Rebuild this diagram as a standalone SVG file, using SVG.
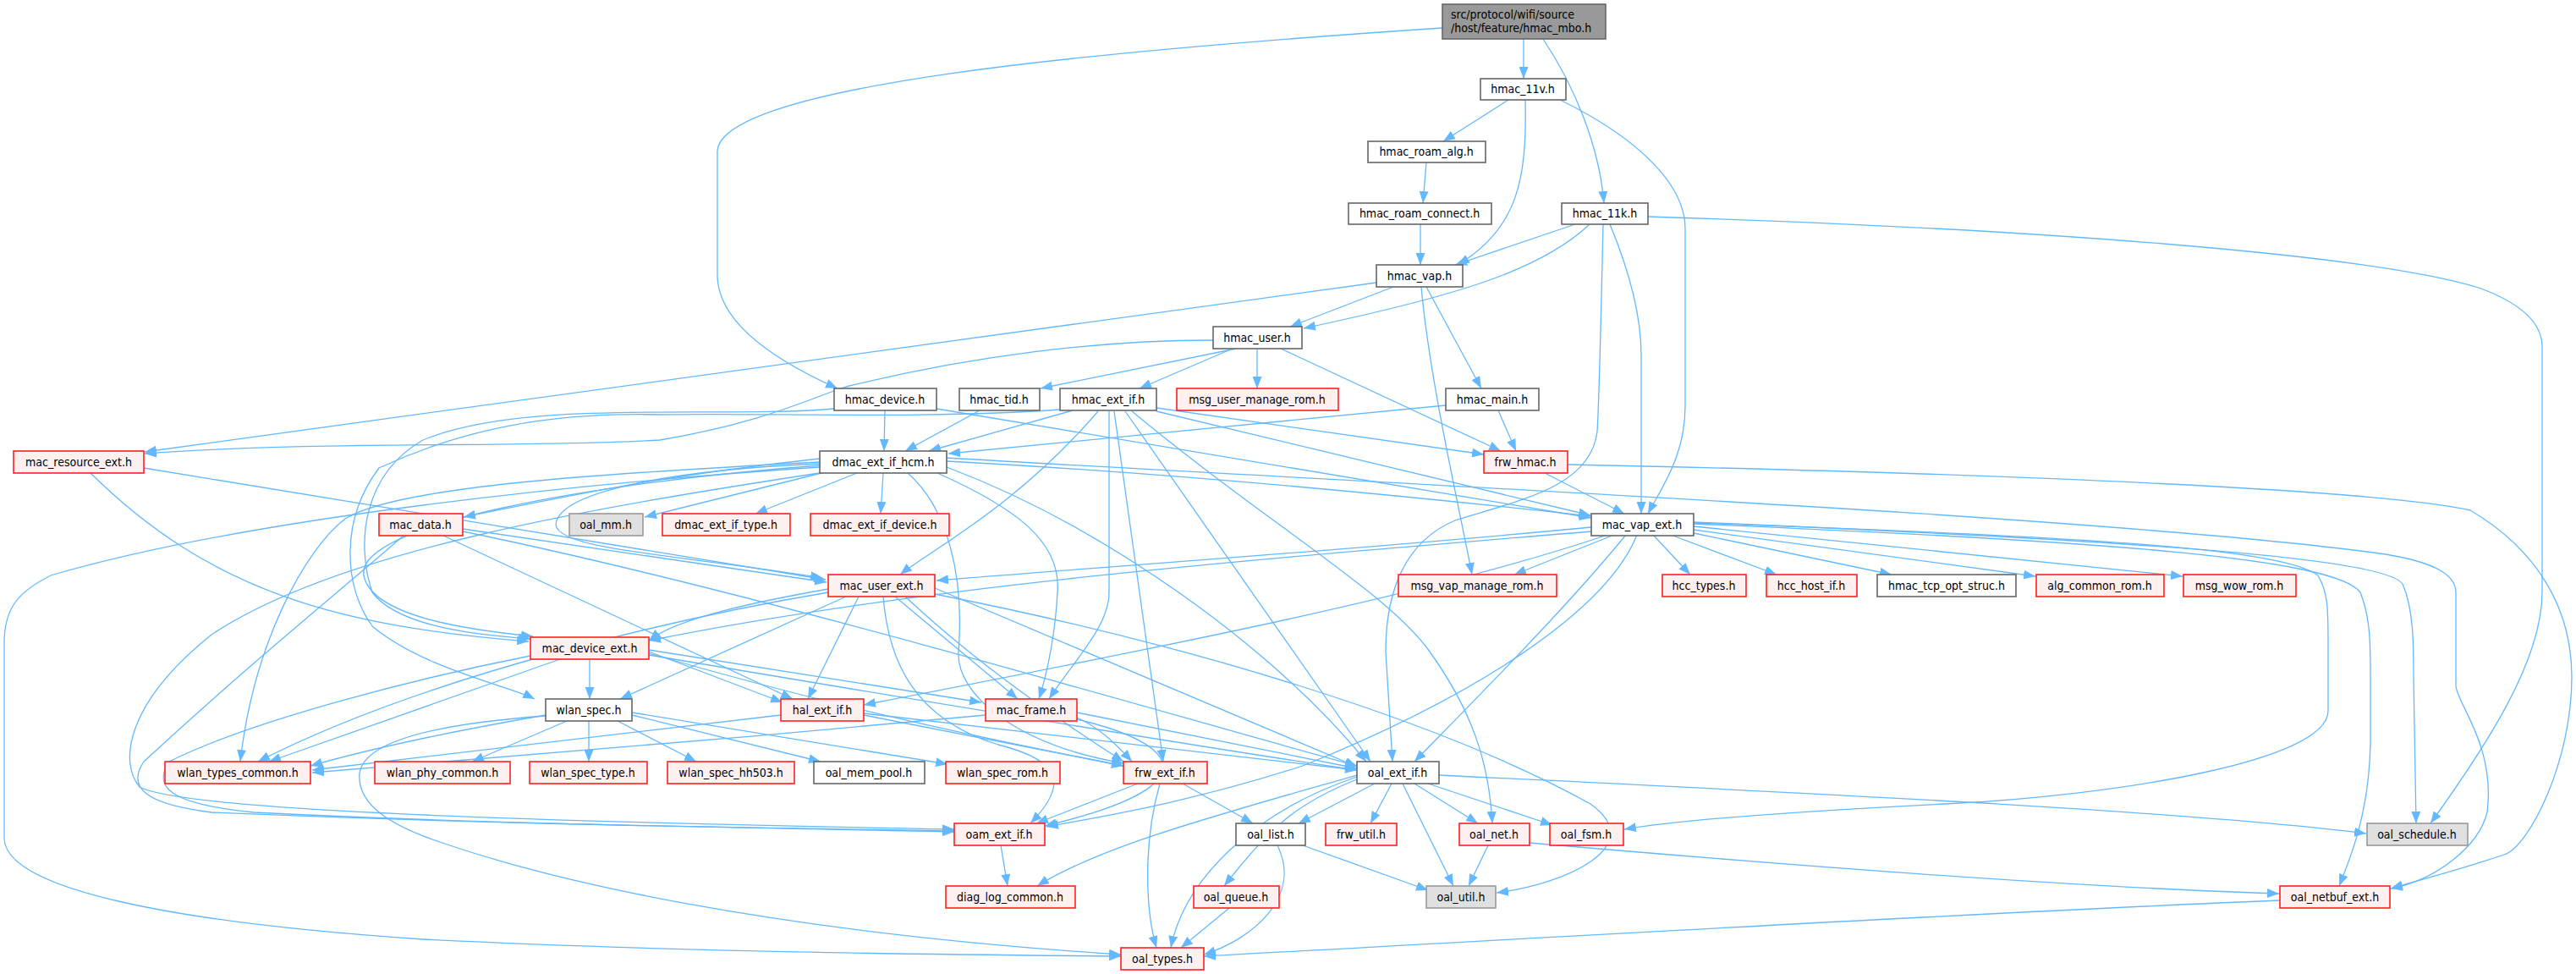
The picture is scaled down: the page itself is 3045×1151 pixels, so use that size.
<svg xmlns="http://www.w3.org/2000/svg" width="3045" height="1151" viewBox="0 0 3045 1151">
<style>
rect{stroke-width:1.6}
.n rect{fill:#ffffff;stroke:#666666}
.r rect{fill:#fff0f0;stroke:#ff2020}
.g rect{fill:#e0e0e0;stroke:#999999}
.root rect{fill:#999999;stroke:#666666}
text{font-family:"DejaVu Sans Condensed","DejaVu Sans",sans-serif;font-size:14px;fill:#000;text-anchor:middle}
.root text{text-anchor:start}
#edges path{fill:none;stroke:#63b8ff;stroke-width:1.3;marker-end:url(#a)}
</style>
<defs>
<marker id="a" markerWidth="14" markerHeight="11" refX="14" refY="5.5" orient="auto" markerUnits="userSpaceOnUse"><path d="M0,0 L14,5.5 L0,11 z" fill="#63b8ff"/></marker>
</defs>
<rect width="3045" height="1151" fill="#ffffff"/>
<g id="edges">
<path d="M1801,46 L1801,93"/>
<path d="M1824,46 C1860,100 1890,170 1896,240"/>
<path d="M1705,33 C1300,60 855,100 848,178 L848,327 C850,385 925,430 990,459"/>
<path d="M1783,118 L1706,167"/>
<path d="M1803,118 C1805,210 1795,270 1723,313"/>
<path d="M1844,118 C1940,165 1992,220 1992,270 L1992,480 C1992,540 1962,580 1948,607"/>
<path d="M1686,192 L1682,240"/>
<path d="M1679,265 L1679,313"/>
<path d="M1862,265 L1720,313"/>
<path d="M1878,266 C1820,320 1720,350 1541,388"/>
<path d="M1903,265 C1930,330 1940,380 1940,420 L1940,607"/>
<path d="M1895,265 C1892,400 1890,480 1888,510 C1880,575 1800,590 1720,615 C1660,640 1638,700 1638,770 L1646,900"/>
<path d="M1948,256 C2400,270 2800,300 2930,340 C2985,360 3005,385 3005,410 L3005,700 C3005,780 2940,880 2873,973"/>
<path d="M1647,339 L1525,386"/>
<path d="M1627,334 L171,534"/>
<path d="M1680,339 C1690,450 1725,600 1740,679"/>
<path d="M1686,339 L1751,459"/>
<path d="M1461,412 L1230,459"/>
<path d="M1457,412 L1347,459"/>
<path d="M1486,412 L1486,459"/>
<path d="M1514,412 L1774,533"/>
<path d="M1434,402 C1300,402 1150,420 1000,457 C960,470 900,500 780,520 C600,530 400,520 171,536"/>
<path d="M1046,485 L1045,533"/>
<path d="M1107,483 L1881,612"/>
<path d="M986,483 C850,495 620,470 500,520 C430,560 420,640 440,700 C470,740 560,750 627,755"/>
<path d="M1158,485 L1070,533"/>
<path d="M1268,485 L1098,533"/>
<path d="M1367,482 L1754,537"/>
<path d="M1367,486 L1880,609"/>
<path d="M1298,486 C1200,600 1100,650 1064,679"/>
<path d="M1311,486 L1311,700 C1311,740 1270,780 1240,826"/>
<path d="M1317,486 L1375,900"/>
<path d="M1330,486 L1620,900"/>
<path d="M1338,486 C1500,620 1640,700 1690,770 C1740,840 1760,900 1764,973"/>
<path d="M1253,484 C1100,495 900,488 780,490 C650,487 547,507 448,553 C403,613 405,690 440,740 C500,790 600,810 632,826"/>
<path d="M969,542 C800,560 700,580 548,611"/>
<path d="M975,558 L762,611"/>
<path d="M1013,559 L893,607"/>
<path d="M1044,559 L1041,607"/>
<path d="M1119,545 C1400,560 1700,590 1880,610"/>
<path d="M969,548 C800,555 660,580 657,620 C660,650 800,655 972,683"/>
<path d="M969,550 C700,570 420,620 430,680 C440,730 560,745 630,752"/>
<path d="M969,546 C700,560 470,575 408,613 C360,650 300,760 284,900"/>
<path d="M969,552 C700,570 300,610 60,680 C20,700 5,720 5,760 L5,990 C5,1050 200,1090 500,1110 C800,1125 1100,1128 1325,1130"/>
<path d="M975,558 C700,600 400,650 250,750 C150,830 140,900 165,930 C220,960 700,972 1128,980"/>
<path d="M1073,559 C1120,600 1140,680 1133,770 C1130,820 1200,880 1328,902"/>
<path d="M1108,559 C1200,600 1255,640 1250,700 C1248,740 1240,790 1228,826"/>
<path d="M1119,552 C1300,620 1500,760 1615,900"/>
<path d="M1119,541 C1600,570 2500,610 2820,655 C2880,665 2903,680 2903,700 L2903,810 C2903,830 2950,880 2940,960 C2930,1000 2880,1040 2826,1050"/>
<path d="M107,559 C250,700 400,740 625,758"/>
<path d="M170,553 L976,685"/>
<path d="M547,625 L977,688"/>
<path d="M547,628 C900,700 1400,850 1604,905"/>
<path d="M522,632 L937,826"/>
<path d="M478,632 C400,700 300,780 170,900 C150,930 170,950 250,960 C600,975 900,978 1128,982"/>
<path d="M1881,623 C1600,650 1300,670 1107,686"/>
<path d="M1881,628 C1500,660 1100,690 767,757"/>
<path d="M1908,632 L1790,679"/>
<path d="M1954,632 L1998,679"/>
<path d="M1975,632 L2100,679"/>
<path d="M2002,630 L2236,679"/>
<path d="M2002,626 L2406,681"/>
<path d="M2002,622 L2580,681"/>
<path d="M1900,632 C1700,700 1400,760 1021,833"/>
<path d="M1935,632 C1900,720 1750,820 1540,905 C1400,950 1300,965 1237,977"/>
<path d="M2002,618 C2500,635 2700,650 2740,680 C2752,700 2752,720 2752,760 L2752,840 C2752,900 2500,940 2300,950 C2100,960 1980,970 1920,980"/>
<path d="M2002,619 C2500,640 2760,660 2790,700 C2802,730 2802,760 2802,800 L2802,880 C2800,960 2780,1010 2765,1047"/>
<path d="M2002,617 C2550,640 2820,660 2840,690 C2853,720 2853,760 2853,800 L2856,973"/>
<path d="M1922,632 C1850,720 1750,820 1672,900"/>
<path d="M979,696 C900,710 800,730 767,757"/>
<path d="M1000,705 L733,826"/>
<path d="M1015,705 L955,826"/>
<path d="M1058,705 L1203,826"/>
<path d="M1070,705 C1150,780 1250,850 1328,900"/>
<path d="M1105,695 L1604,906"/>
<path d="M1044,705 C1050,780 1080,850 1180,880 C1260,900 1260,930 1218,973"/>
<path d="M1105,702 C1400,760 1700,850 1880,950 C1950,1000 1850,1045 1769,1055"/>
<path d="M979,700 C800,730 500,800 305,900"/>
<path d="M697,779 L697,826"/>
<path d="M662,779 L318,900"/>
<path d="M767,770 L925,830"/>
<path d="M767,768 L1160,830"/>
<path d="M767,774 C1100,830 1400,880 1604,910"/>
<path d="M627,775 C500,800 300,850 200,900 C180,930 200,950 300,960 C600,975 900,978 1128,983"/>
<path d="M767,772 C1000,840 1200,880 1328,905"/>
<path d="M645,845 C500,870 420,890 367,905"/>
<path d="M670,852 L558,900"/>
<path d="M696,852 L696,900"/>
<path d="M730,852 L823,900"/>
<path d="M747,845 L970,900"/>
<path d="M747,842 L1120,903"/>
<path d="M645,846 C520,855 430,875 425,914 C422,950 460,975 520,995 C650,1040 900,1100 1325,1128"/>
<path d="M923,845 C700,870 500,895 369,910"/>
<path d="M1021,845 C1150,870 1250,890 1328,905"/>
<path d="M1021,843 L1604,910"/>
<path d="M1165,845 C900,870 600,895 369,913"/>
<path d="M1273,842 L1604,908"/>
<path d="M1273,848 C1300,860 1320,880 1338,900"/>
<path d="M1273,850 C1400,880 1430,930 1235,976"/>
<path d="M1345,926 L1225,973"/>
<path d="M1371,926 C1350,1000 1355,1080 1367,1120"/>
<path d="M1398,926 L1481,973"/>
<path d="M1625,926 L1535,973"/>
<path d="M1645,926 L1620,973"/>
<path d="M1672,926 L1747,973"/>
<path d="M1688,926 L1835,975"/>
<path d="M1658,926 L1718,1047"/>
<path d="M1701,916 C2200,940 2600,960 2797,985"/>
<path d="M1604,918 C1480,960 1400,1040 1384,1120"/>
<path d="M1604,921 C1530,950 1500,980 1447,1047"/>
<path d="M1604,916 C1450,960 1300,1000 1226,1047"/>
<path d="M1183,999 L1191,1047"/>
<path d="M1540,999 L1688,1052"/>
<path d="M1510,999 C1540,1060 1480,1110 1423,1128"/>
<path d="M1759,999 L1736,1047"/>
<path d="M1808,996 C2200,1030 2500,1050 2694,1056"/>
<path d="M1453,1073 L1396,1120"/>
<path d="M2695,1064 C2300,1080 1800,1110 1423,1130"/>
<path d="M1826,559 L1920,607"/>
<path d="M1853,549 C2400,560 2820,580 2920,603 C3000,650 3040,720 3040,800 C3040,900 2990,1000 2960,1010 C2900,1030 2860,1040 2826,1050"/>
<path d="M1771,485 L1792,533"/>
<path d="M1709,479 L1121,536"/>
</g>
<g id="n_root" class="root"><rect x="1705" y="5" width="193" height="41"/><text x="1715" y="22">src/protocol/wifi/source</text><text x="1715" y="38">/host/feature/hmac_mbo.h</text></g>
<g id="n_hmac_11v" class="n"><rect x="1750" y="93" width="101" height="25"/><text x="1800" y="110">hmac_11v.h</text></g>
<g id="n_hmac_roam_alg" class="n"><rect x="1617" y="167" width="139" height="25"/><text x="1686" y="184">hmac_roam_alg.h</text></g>
<g id="n_hmac_roam_connect" class="n"><rect x="1594" y="240" width="169" height="25"/><text x="1678" y="257">hmac_roam_connect.h</text></g>
<g id="n_hmac_11k" class="n"><rect x="1846" y="240" width="102" height="25"/><text x="1897" y="257">hmac_11k.h</text></g>
<g id="n_hmac_vap" class="n"><rect x="1627" y="313" width="102" height="26"/><text x="1678" y="331">hmac_vap.h</text></g>
<g id="n_hmac_user" class="n"><rect x="1434" y="386" width="105" height="26"/><text x="1486" y="404">hmac_user.h</text></g>
<g id="n_hmac_device" class="n"><rect x="986" y="459" width="121" height="26"/><text x="1046" y="477">hmac_device.h</text></g>
<g id="n_hmac_tid" class="n"><rect x="1134" y="459" width="95" height="26"/><text x="1181" y="477">hmac_tid.h</text></g>
<g id="n_hmac_ext_if" class="n"><rect x="1253" y="459" width="114" height="26"/><text x="1310" y="477">hmac_ext_if.h</text></g>
<g id="n_msg_user_manage_rom" class="r"><rect x="1391" y="459" width="191" height="26"/><text x="1486" y="477">msg_user_manage_rom.h</text></g>
<g id="n_hmac_main" class="n"><rect x="1709" y="459" width="110" height="26"/><text x="1764" y="477">hmac_main.h</text></g>
<g id="n_mac_resource_ext" class="r"><rect x="16" y="533" width="154" height="26"/><text x="93" y="551">mac_resource_ext.h</text></g>
<g id="n_dmac_ext_if_hcm" class="n"><rect x="969" y="533" width="150" height="26"/><text x="1044" y="551">dmac_ext_if_hcm.h</text></g>
<g id="n_frw_hmac" class="r"><rect x="1754" y="533" width="99" height="26"/><text x="1803" y="551">frw_hmac.h</text></g>
<g id="n_mac_data" class="r"><rect x="448" y="607" width="99" height="26"/><text x="497" y="625">mac_data.h</text></g>
<g id="n_oal_mm" class="g"><rect x="673" y="607" width="87" height="26"/><text x="716" y="625">oal_mm.h</text></g>
<g id="n_dmac_ext_if_type" class="r"><rect x="783" y="607" width="151" height="26"/><text x="858" y="625">dmac_ext_if_type.h</text></g>
<g id="n_dmac_ext_if_device" class="r"><rect x="958" y="607" width="164" height="26"/><text x="1040" y="625">dmac_ext_if_device.h</text></g>
<g id="n_mac_vap_ext" class="n"><rect x="1881" y="607" width="121" height="26"/><text x="1941" y="625">mac_vap_ext.h</text></g>
<g id="n_mac_user_ext" class="r"><rect x="979" y="679" width="126" height="26"/><text x="1042" y="697">mac_user_ext.h</text></g>
<g id="n_msg_vap_manage_rom" class="r"><rect x="1653" y="679" width="187" height="26"/><text x="1746" y="697">msg_vap_manage_rom.h</text></g>
<g id="n_hcc_types" class="r"><rect x="1965" y="679" width="99" height="26"/><text x="2014" y="697">hcc_types.h</text></g>
<g id="n_hcc_host_if" class="r"><rect x="2088" y="679" width="107" height="26"/><text x="2141" y="697">hcc_host_if.h</text></g>
<g id="n_hmac_tcp_opt_struc" class="n"><rect x="2219" y="679" width="164" height="26"/><text x="2301" y="697">hmac_tcp_opt_struc.h</text></g>
<g id="n_alg_common_rom" class="r"><rect x="2407" y="679" width="151" height="26"/><text x="2482" y="697">alg_common_rom.h</text></g>
<g id="n_msg_wow_rom" class="r"><rect x="2581" y="679" width="133" height="26"/><text x="2647" y="697">msg_wow_rom.h</text></g>
<g id="n_mac_device_ext" class="r"><rect x="627" y="753" width="140" height="26"/><text x="697" y="771">mac_device_ext.h</text></g>
<g id="n_wlan_spec" class="n"><rect x="645" y="826" width="102" height="26"/><text x="696" y="844">wlan_spec.h</text></g>
<g id="n_hal_ext_if" class="r"><rect x="923" y="826" width="98" height="26"/><text x="972" y="844">hal_ext_if.h</text></g>
<g id="n_mac_frame" class="r"><rect x="1165" y="826" width="108" height="26"/><text x="1219" y="844">mac_frame.h</text></g>
<g id="n_wlan_types_common" class="r"><rect x="195" y="900" width="172" height="26"/><text x="281" y="918">wlan_types_common.h</text></g>
<g id="n_wlan_phy_common" class="r"><rect x="443" y="900" width="160" height="26"/><text x="523" y="918">wlan_phy_common.h</text></g>
<g id="n_wlan_spec_type" class="r"><rect x="626" y="900" width="139" height="26"/><text x="695" y="918">wlan_spec_type.h</text></g>
<g id="n_wlan_spec_hh503" class="r"><rect x="789" y="900" width="150" height="26"/><text x="864" y="918">wlan_spec_hh503.h</text></g>
<g id="n_oal_mem_pool" class="n"><rect x="962" y="900" width="131" height="26"/><text x="1027" y="918">oal_mem_pool.h</text></g>
<g id="n_wlan_spec_rom" class="r"><rect x="1118" y="900" width="135" height="26"/><text x="1185" y="918">wlan_spec_rom.h</text></g>
<g id="n_frw_ext_if" class="r"><rect x="1328" y="900" width="99" height="26"/><text x="1377" y="918">frw_ext_if.h</text></g>
<g id="n_oal_ext_if" class="n"><rect x="1604" y="900" width="97" height="26"/><text x="1652" y="918">oal_ext_if.h</text></g>
<g id="n_oam_ext_if" class="r"><rect x="1128" y="973" width="107" height="26"/><text x="1181" y="991">oam_ext_if.h</text></g>
<g id="n_oal_list" class="n"><rect x="1461" y="973" width="82" height="26"/><text x="1502" y="991">oal_list.h</text></g>
<g id="n_frw_util" class="r"><rect x="1567" y="973" width="84" height="26"/><text x="1609" y="991">frw_util.h</text></g>
<g id="n_oal_net" class="r"><rect x="1725" y="973" width="83" height="26"/><text x="1766" y="991">oal_net.h</text></g>
<g id="n_oal_fsm" class="r"><rect x="1832" y="973" width="87" height="26"/><text x="1875" y="991">oal_fsm.h</text></g>
<g id="n_oal_schedule" class="g"><rect x="2798" y="973" width="119" height="26"/><text x="2857" y="991">oal_schedule.h</text></g>
<g id="n_diag_log_common" class="r"><rect x="1118" y="1047" width="153" height="26"/><text x="1194" y="1065">diag_log_common.h</text></g>
<g id="n_oal_queue" class="r"><rect x="1411" y="1047" width="101" height="26"/><text x="1461" y="1065">oal_queue.h</text></g>
<g id="n_oal_util" class="g"><rect x="1686" y="1047" width="82" height="26"/><text x="1727" y="1065">oal_util.h</text></g>
<g id="n_oal_netbuf_ext" class="r"><rect x="2695" y="1047" width="130" height="26"/><text x="2760" y="1065">oal_netbuf_ext.h</text></g>
<g id="n_oal_types" class="r"><rect x="1325" y="1120" width="98" height="26"/><text x="1374" y="1138">oal_types.h</text></g>
</svg>
